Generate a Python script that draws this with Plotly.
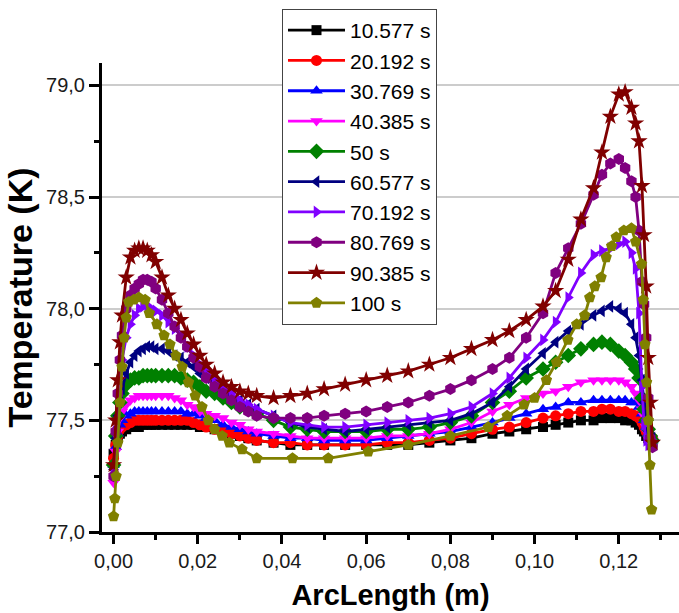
import plotly.graph_objects as go

# Shared arc-length grid (m) for the first nine series
x_grid = [0.0, 0.0005, 0.001, 0.0015, 0.002, 0.003, 0.004, 0.005, 0.006, 0.007, 0.008, 0.009, 0.010,
          0.0115, 0.013, 0.0145, 0.016, 0.0175, 0.019, 0.0205, 0.022, 0.024, 0.026, 0.028, 0.030, 0.032, 0.034,
          0.038, 0.042, 0.046, 0.050, 0.055, 0.060, 0.065, 0.070, 0.075, 0.080, 0.085, 0.090,
          0.094, 0.098, 0.102, 0.105, 0.108, 0.111, 0.114, 0.116, 0.118, 0.120, 0.1215, 0.123,
          0.124, 0.1248, 0.1255, 0.126, 0.1265, 0.127, 0.1275, 0.128]

t_10577 = [77.35, 77.39, 77.42, 77.44, 77.45, 77.46, 77.47, 77.47, 77.47, 77.48, 77.48, 77.48, 77.48,
           77.48, 77.48, 77.48, 77.48, 77.48, 77.48, 77.47, 77.47, 77.46, 77.45, 77.44, 77.43, 77.42, 77.41,
           77.40, 77.39, 77.39, 77.39, 77.39, 77.39, 77.39, 77.39, 77.40, 77.41, 77.42, 77.44,
           77.45, 77.46, 77.47, 77.48, 77.49, 77.50, 77.50, 77.51, 77.51, 77.51, 77.50, 77.50,
           77.49, 77.48, 77.46, 77.45, 77.43, 77.42, 77.41, 77.40]
t_20192 = [77.33, 77.39, 77.43, 77.46, 77.47, 77.48, 77.49, 77.50, 77.50, 77.50, 77.50, 77.50, 77.50,
           77.50, 77.50, 77.50, 77.50, 77.50, 77.49, 77.48, 77.47, 77.46, 77.45, 77.44, 77.43, 77.42, 77.41,
           77.40, 77.40, 77.39, 77.39, 77.39, 77.39, 77.40, 77.40, 77.41, 77.42, 77.44, 77.46,
           77.47, 77.49, 77.51, 77.52, 77.53, 77.54, 77.54, 77.55, 77.55, 77.54, 77.54, 77.53,
           77.52, 77.51, 77.49, 77.47, 77.45, 77.43, 77.42, 77.42]
t_30769 = [77.30, 77.38, 77.44, 77.48, 77.50, 77.52, 77.53, 77.54, 77.54, 77.54, 77.54, 77.54, 77.54,
           77.54, 77.54, 77.54, 77.54, 77.53, 77.53, 77.52, 77.51, 77.50, 77.48, 77.47, 77.46, 77.45, 77.44,
           77.43, 77.42, 77.42, 77.41, 77.41, 77.41, 77.42, 77.43, 77.44, 77.45, 77.47, 77.49,
           77.51, 77.53, 77.55, 77.56, 77.58, 77.58, 77.59, 77.59, 77.59, 77.59, 77.59, 77.58,
           77.58, 77.56, 77.53, 77.50, 77.47, 77.44, 77.42, 77.41]
t_40385 = [77.22, 77.36, 77.45, 77.51, 77.54, 77.57, 77.59, 77.60, 77.61, 77.61, 77.61, 77.61, 77.61,
           77.61, 77.61, 77.60, 77.59, 77.57, 77.56, 77.54, 77.53, 77.52, 77.51, 77.49, 77.48, 77.46, 77.45,
           77.44, 77.43, 77.42, 77.42, 77.42, 77.42, 77.43, 77.43, 77.44, 77.46, 77.49, 77.54,
           77.57, 77.60, 77.62, 77.63, 77.65, 77.67, 77.68, 77.68, 77.68, 77.68, 77.67, 77.65,
           77.62, 77.59, 77.55, 77.52, 77.47, 77.44, 77.42, 77.41]
t_50 = [77.30, 77.43, 77.52, 77.58, 77.62, 77.66, 77.68, 77.69, 77.69, 77.70, 77.70, 77.70, 77.70,
        77.70, 77.70, 77.70, 77.69, 77.68, 77.67, 77.65, 77.63, 77.62, 77.60, 77.58, 77.56, 77.55, 77.53,
        77.50, 77.47, 77.46, 77.45, 77.45, 77.45, 77.46, 77.46, 77.47, 77.49, 77.52, 77.58,
        77.63, 77.69, 77.73, 77.76, 77.79, 77.82, 77.84, 77.85, 77.84, 77.81, 77.79, 77.76,
        77.73, 77.69, 77.60, 77.55, 77.50, 77.46, 77.43, 77.41]
t_60577 = [77.28, 77.42, 77.52, 77.59, 77.64, 77.71, 77.76, 77.79, 77.81, 77.82, 77.83, 77.83, 77.82,
           77.82, 77.81, 77.79, 77.78, 77.76, 77.74, 77.71, 77.69, 77.67, 77.64, 77.61, 77.59, 77.57, 77.55,
           77.52, 77.49, 77.47, 77.46, 77.45, 77.46, 77.47, 77.48, 77.49, 77.50, 77.53, 77.58,
           77.65, 77.73, 77.80, 77.85, 77.90, 77.93, 77.97, 77.99, 78.01, 78.00, 77.98, 77.93,
           77.87, 77.79, 77.68, 77.58, 77.50, 77.45, 77.43, 77.42]
t_70192 = [77.28, 77.45, 77.58, 77.69, 77.77, 77.87, 77.93, 77.97, 78.00, 78.01, 78.01, 78.00, 77.99,
           77.97, 77.94, 77.91, 77.88, 77.83, 77.79, 77.75, 77.72, 77.68, 77.65, 77.62, 77.59, 77.57, 77.55,
           77.52, 77.49, 77.48, 77.47, 77.47, 77.48, 77.49, 77.50, 77.51, 77.53, 77.56, 77.62,
           77.69, 77.78, 77.86, 77.94, 78.05, 78.16, 78.24, 78.26, 78.27, 78.29, 78.30, 78.25,
           78.18, 77.98, 77.65, 77.48, 77.41, 77.39, 77.40, 77.41]
t_80769 = [77.25, 77.45, 77.62, 77.77, 77.88, 78.00, 78.06, 78.09, 78.11, 78.13, 78.13, 78.12, 78.09,
           78.04, 77.98, 77.92, 77.87, 77.83, 77.78, 77.74, 77.69, 77.65, 77.62, 77.59, 77.56, 77.54, 77.52,
           77.51, 77.51, 77.51, 77.52, 77.53, 77.54, 77.56, 77.58, 77.61, 77.64, 77.68, 77.73,
           77.78, 77.87, 77.98, 78.16, 78.27, 78.38, 78.51, 78.60, 78.65, 78.67, 78.63, 78.57,
           78.50, 78.35, 78.12, 78.02, 77.87, 77.60, 77.42, 77.38]
t_90385 = [77.30, 77.50, 77.68, 77.85, 77.97, 78.14, 78.23, 78.26, 78.27, 78.27, 78.26, 78.24, 78.21,
           78.14, 78.06, 78.00, 77.95, 77.89, 77.84, 77.79, 77.75, 77.71, 77.67, 77.65, 77.63, 77.62, 77.61,
           77.60, 77.61, 77.62, 77.64, 77.66, 77.68, 77.70, 77.72, 77.75, 77.78, 77.82, 77.86,
           77.90, 77.95, 78.01, 78.08, 78.22, 78.40, 78.54, 78.70, 78.86, 78.96, 78.97, 78.90,
           78.83, 78.75, 78.55, 78.33, 78.10, 77.78, 77.58, 77.40]

# 100 s series has its own (coarser) grid
x_100 = [0.0, 0.0003, 0.0006, 0.001, 0.0015, 0.002, 0.0025, 0.003, 0.0036, 0.0048,
         0.006, 0.0075, 0.0085, 0.0103, 0.012, 0.0134, 0.0148, 0.0163, 0.0178, 0.0194,
         0.021, 0.0225, 0.024, 0.0258, 0.0275, 0.0305, 0.034, 0.0425, 0.051, 0.0605,
         0.070, 0.080, 0.089, 0.0935, 0.0975, 0.100, 0.1028, 0.1052, 0.1079, 0.1100,
         0.1119, 0.1131, 0.1143, 0.1158, 0.1170, 0.1183, 0.1194, 0.1212, 0.1230, 0.1240,
         0.1254, 0.1258, 0.1262, 0.1266, 0.1270, 0.1274, 0.1278]
t_100 = [77.07, 77.15, 77.25, 77.40, 77.58, 77.74, 77.87, 77.96, 78.03, 78.04,
         78.05, 78.04, 77.98, 77.93, 77.88, 77.84, 77.79, 77.74, 77.67, 77.61,
         77.56, 77.50, 77.46, 77.43, 77.40, 77.37, 77.33, 77.33, 77.33, 77.36,
         77.39, 77.43, 77.47, 77.52, 77.57, 77.60, 77.68, 77.76, 77.86, 77.93,
         77.97, 78.05, 78.10, 78.14, 78.23, 78.28, 78.32, 78.35, 78.36, 78.30,
         78.20, 78.04, 77.84, 77.67, 77.50, 77.30, 77.10]

series_names = ["10.577 s", "20.192 s", "30.769 s", "40.385 s", "50 s",
                "60.577 s", "70.192 s", "80.769 s", "90.385 s", "100 s"]
series_x = [x_grid] * 9 + [x_100]
series_t = [t_10577, t_20192, t_30769, t_40385, t_50, t_60577, t_70192, t_80769, t_90385, t_100]
colors = ["#000000", "#FF0000", "#0000FF", "#FF00FF", "#008000",
          "#000080", "#8000FF", "#800080", "#800000", "#808000"]
symbols = ["square", "circle", "triangle-up", "triangle-down", "diamond",
           "triangle-left", "triangle-right", "hexagon", "star", "pentagon"]
sizes = [10, 11, 11, 11, 12, 11, 11, 12, 13, 12]

y_ticks = [77.0, 77.5, 78.0, 78.5, 79.0]
x_ticks = [0.00, 0.02, 0.04, 0.06, 0.08, 0.10, 0.12]

fig = go.Figure()
for name, xs, ts, c, s, sz in zip(series_names, series_x, series_t, colors, symbols, sizes):
    fig.add_trace(go.Scatter(
        x=xs, y=ts, name=name, mode="lines+markers",
        line=dict(color=c, width=2.8),
        marker=dict(symbol=s, size=sz, color=c, line=dict(width=0)),
    ))

font_family = "Liberation Sans, Arial, sans-serif"
fig.update_layout(
    width=679, height=613,
    margin=dict(l=102, r=0, t=63, b=81),
    paper_bgcolor="white", plot_bgcolor="white",
    separators=", ",
    font=dict(family=font_family, color="black", size=20),
    showlegend=True,
    legend=dict(
        x=(282 - 102) / 577, y=1 + 54 / 469, xanchor="left", yanchor="top",
        bgcolor="white", bordercolor="#444444", borderwidth=1,
        font=dict(family=font_family, size=21, color="black"),
        tracegroupgap=0, itemwidth=57, maxheight=600,
    ),
    xaxis=dict(
        range=[-0.00275, 0.1343], tickvals=x_ticks, tickformat=".2f",
        showline=True, linecolor="black", linewidth=3, mirror=False,
        ticks="outside", ticklen=9, tickwidth=3, tickcolor="black",
        showgrid=False, zeroline=False,
        tickfont=dict(size=20, color="#1a1a1a"),
        minor=dict(dtick=0.01, tick0=0, ticks="outside", ticklen=5, tickwidth=3, tickcolor="black", showgrid=False),
        title=dict(text="<b>ArcLength (m)</b>", font=dict(size=29, color="black"), standoff=14),
    ),
    yaxis=dict(
        range=[77.0, 79.1], tickvals=y_ticks, tickformat=".1f",
        showline=True, linecolor="black", linewidth=3, mirror=False,
        ticks="outside", ticklen=10, tickwidth=3, tickcolor="black",
        showgrid=True, gridcolor="#cccccc", gridwidth=1.5, zeroline=False,
        tickfont=dict(size=20, color="#1a1a1a"),
        minor=dict(dtick=0.25, tick0=77.0, ticks="outside", ticklen=5, tickwidth=3, tickcolor="black", showgrid=False),
        title=dict(text="<b>Temperature (K)</b>", font=dict(size=34, color="black"), standoff=4),
    ),
)

fig.write_html("out.html")
